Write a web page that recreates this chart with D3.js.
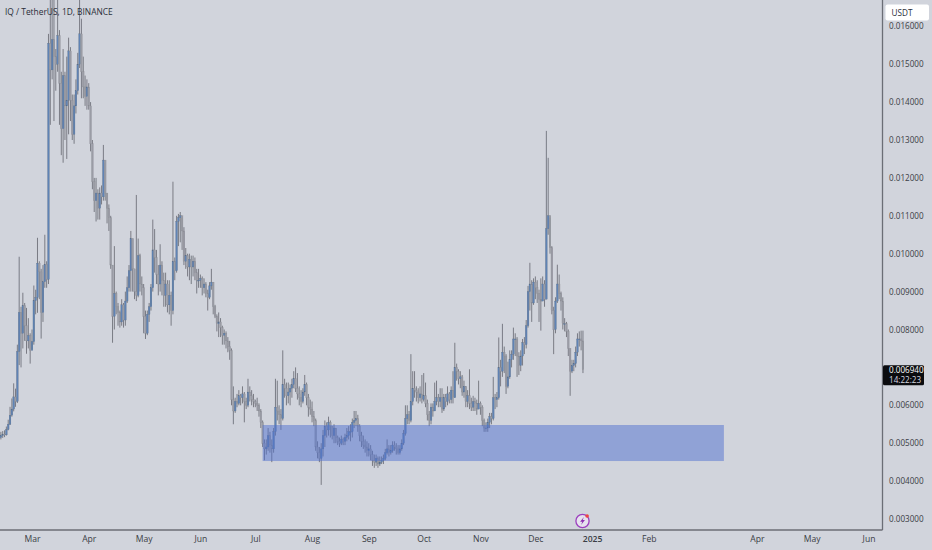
<!DOCTYPE html>
<html><head><meta charset="utf-8">
<script src="https://cdn.jsdelivr.net/npm/d3@7/dist/d3.min.js"></script>
<style>
html,body{margin:0;padding:0;background:#d1d4dc;overflow:hidden}
svg{display:block}
text{font-family:"Open Sans",sans-serif}
</style></head><body><svg id="c" width="932" height="550"></svg>
<script>
// Prices are in thousandths of USDT; one candle per day from the first date.
const firstDate = "2024-02-13";
const firstOpen = 5.15;
const closes = [
5.20,5.24,5.22,5.36,5.50,5.74,5.90,6.22,6.10,7.42,
8.45,7.90,8.63,8.10,7.70,7.84,7.45,7.68,8.76,8.84,
9.75,9.52,8.45,9.26,9.72,9.32,15.55,14.85,15.65,15.20,
15.00,15.75,14.50,13.30,14.70,13.90,14.05,15.35,14.05,13.15,
13.90,14.30,15.00,15.80,14.80,14.40,14.15,14.40,13.90,12.90,
11.90,11.40,11.60,11.20,11.60,11.50,12.47,11.60,11.20,10.95,
9.70,8.35,8.95,8.60,8.45,8.20,8.65,8.25,8.75,9.10,
9.55,10.40,9.60,9.00,8.90,9.95,9.20,9.10,8.35,7.90,
8.40,8.60,9.10,10.10,9.90,9.45,9.20,9.70,9.30,8.90,
9.20,8.65,8.90,8.50,9.80,9.55,10.85,10.95,11.00,10.60,
9.80,9.95,9.65,9.85,9.65,9.80,9.50,9.30,9.30,9.35,
9.10,9.20,8.95,8.85,9.15,9.25,8.60,8.35,8.15,8.20,
8.05,7.85,7.90,7.70,7.55,7.45,6.15,5.85,6.10,6.05,
6.25,6.20,6.30,6.10,6.00,6.35,6.25,6.15,6.10,6.05,
6.00,5.85,5.55,5.00,4.85,4.90,5.20,4.95,4.85,5.30,
5.95,5.85,5.75,5.65,6.55,6.45,6.25,6.35,6.45,6.55,
6.70,6.45,6.30,6.20,6.10,6.35,6.55,6.20,5.95,5.90,
5.70,5.60,4.90,4.75,4.60,4.85,5.20,5.45,5.35,5.55,
5.45,5.20,5.40,5.15,5.05,5.00,5.10,5.05,5.15,5.20,
5.30,5.30,5.55,5.60,5.65,5.45,5.20,5.05,4.95,4.90,
4.80,4.85,4.70,4.55,4.50,4.60,4.45,4.50,4.55,4.60,
4.75,4.85,4.75,4.80,4.95,4.90,4.85,4.75,4.85,5.00,
5.25,5.65,5.75,5.60,6.10,6.45,6.40,6.35,6.20,6.30,
6.15,6.25,6.05,5.75,5.60,5.95,5.85,6.10,6.20,6.10,
6.20,5.90,6.20,6.10,6.30,6.15,6.40,6.20,7.00,6.90,
6.70,6.75,6.35,6.50,6.10,6.25,6.05,5.95,6.10,6.05,
5.90,6.05,5.95,5.60,5.40,5.40,5.55,5.70,5.65,6.20,
6.15,6.20,7.00,6.90,7.40,7.30,6.50,6.75,7.20,7.35,
7.75,7.75,7.30,7.05,7.30,7.65,7.60,8.10,9.00,9.20,
8.70,9.25,9.10,8.95,8.80,8.75,9.20,8.80,10.66,11.00,
10.16,8.50,8.00,8.75,9.20,8.95,8.75,8.15,8.15,7.95,
7.50,6.90,7.05,7.10,7.40,7.75,7.75,7.70,6.94
];
const highs = [
5.30,5.32,5.34,5.44,5.62,5.96,6.18,6.58,6.44,7.60,
9.92,8.60,8.97,8.70,8.57,8.30,7.90,8.00,9.16,9.05,
10.42,9.80,9.60,9.70,10.50,9.80,15.80,16.70,16.70,16.70,
15.40,16.70,15.90,14.80,15.40,14.80,15.20,15.70,15.45,14.20,
14.20,14.60,15.30,16.70,16.20,15.20,14.70,14.60,14.50,14.00,
13.00,12.00,12.00,11.70,11.75,11.80,12.87,12.40,11.60,11.30,
11.00,9.70,10.20,9.00,8.70,8.50,8.80,8.70,9.00,9.40,
9.70,10.60,10.40,9.60,11.55,10.40,10.00,9.40,9.20,8.50,
8.50,8.70,9.20,10.90,10.65,10.10,9.70,10.25,9.80,9.50,
9.50,9.30,9.30,9.00,11.90,9.90,11.00,11.05,11.10,10.95,
10.70,10.15,10.00,10.00,9.95,9.95,9.90,9.60,9.60,9.45,
9.40,9.35,9.25,9.05,9.25,9.60,9.25,8.65,8.40,8.45,
8.30,8.10,8.00,7.95,7.80,7.70,7.50,6.50,6.20,6.30,
6.40,6.30,6.50,6.35,6.20,6.70,6.50,6.40,6.30,6.15,
6.20,6.05,5.90,5.60,5.10,5.10,5.40,5.30,5.10,5.40,
6.70,6.65,6.00,5.90,7.45,6.70,6.60,6.60,6.55,6.70,
6.90,7.00,6.85,6.50,6.40,6.45,6.80,6.60,6.30,6.15,
6.10,5.85,5.65,5.05,4.90,5.00,5.35,5.60,5.55,5.70,
5.60,5.45,5.50,5.40,5.20,5.15,5.20,5.15,5.25,5.40,
5.45,5.50,5.65,5.85,5.85,5.75,5.50,5.30,5.20,5.10,
5.05,5.00,4.95,4.80,4.70,4.70,4.65,4.65,4.65,4.70,
4.85,5.10,4.95,4.95,5.05,5.05,5.00,4.95,4.95,5.10,
5.35,6.00,6.00,5.85,7.35,6.90,6.90,6.50,6.45,6.50,
6.80,6.85,6.60,6.15,5.85,6.05,6.05,6.60,6.65,6.30,
6.45,6.45,6.30,6.30,6.50,6.35,6.50,6.90,7.65,7.10,
6.95,6.90,6.80,6.65,6.50,6.40,6.95,6.20,6.25,6.20,
6.15,6.65,6.10,6.00,5.65,5.55,5.65,5.80,5.80,6.75,
6.30,6.35,7.79,7.20,8.15,7.55,7.35,7.15,7.45,7.45,
8.05,7.90,7.80,7.40,7.45,7.75,7.80,8.25,9.15,9.76,
9.30,9.35,9.40,9.30,9.05,9.35,9.40,9.30,13.24,12.53,
10.95,10.20,8.60,8.85,9.71,9.45,9.00,8.85,8.30,8.20,
8.00,7.50,7.20,7.20,7.55,7.90,7.95,7.97,7.97
];
const lows = [
5.10,5.14,5.16,5.20,5.34,5.48,5.70,5.84,5.96,6.06,
7.06,7.00,7.50,7.70,7.36,7.50,7.10,7.48,7.60,8.40,
8.44,8.80,7.76,8.20,9.10,9.10,9.20,13.40,14.60,13.50,
14.30,14.80,13.40,12.60,12.40,13.00,12.50,13.15,13.50,13.00,
12.90,13.70,14.20,14.90,14.10,14.10,13.90,13.80,13.80,12.70,
11.70,11.10,10.85,10.90,10.90,11.30,11.40,11.40,10.80,10.60,
9.60,7.65,8.00,8.40,8.10,8.05,8.10,8.05,8.10,8.70,
9.00,9.00,9.00,8.80,8.75,8.85,9.00,8.90,7.90,7.75,
7.85,8.20,8.50,9.00,9.50,9.20,8.90,9.00,8.90,8.60,
8.60,8.45,8.40,8.10,8.40,9.30,9.50,10.20,10.30,10.10,
9.70,9.60,9.40,9.30,9.20,9.40,9.30,8.95,9.10,9.10,
8.90,8.95,8.85,8.50,8.80,9.05,8.40,8.30,7.95,7.80,
7.80,7.60,7.60,7.50,7.40,7.20,6.00,5.50,5.80,5.95,
6.00,6.00,6.05,5.55,5.90,5.95,6.10,6.00,5.95,5.95,
5.85,5.70,5.40,4.90,4.55,4.70,4.80,4.75,4.50,4.75,
5.20,5.60,5.50,5.35,5.60,6.20,6.00,6.05,6.00,6.20,
6.45,6.35,6.15,6.00,5.95,6.05,6.25,6.00,5.70,5.75,
5.55,5.45,4.80,4.60,4.50,3.90,4.65,4.90,5.15,5.20,
5.15,5.10,5.00,5.00,4.95,4.90,4.95,4.95,4.95,5.05,
5.10,5.05,5.15,5.40,5.45,5.30,5.05,4.90,4.85,4.75,
4.65,4.65,4.55,4.40,4.35,4.40,4.35,4.40,4.45,4.45,
4.55,4.70,4.65,4.70,4.75,4.80,4.70,4.70,4.70,4.80,
4.95,5.20,5.50,5.50,5.55,6.00,6.20,6.10,6.05,6.10,
6.05,6.10,5.95,5.60,5.45,5.50,5.70,5.85,6.00,5.95,
5.95,5.80,5.85,5.95,6.00,6.05,6.05,6.05,6.20,6.65,
6.55,6.45,6.25,6.20,5.95,5.95,5.90,5.85,5.85,5.85,
5.75,5.90,5.75,5.45,5.30,5.30,5.30,5.40,5.50,5.60,
5.90,5.95,6.15,6.50,6.75,6.85,6.30,6.45,6.70,7.00,
7.20,7.30,6.75,6.80,6.90,7.05,7.35,7.50,8.05,8.50,
8.20,8.65,8.80,8.70,8.20,7.97,8.75,8.60,8.80,10.50,
10.00,8.40,7.35,7.90,8.70,8.80,8.50,8.00,7.95,7.80,
7.30,6.25,6.85,6.90,7.00,7.30,7.55,7.45,6.85
];
const opens = closes.map((c, i) => i === 0 ? firstOpen : closes[i - 1]);

const priceTicks = [3,4,5,6,8,9,10,11,12,13,14,15,16];
const timeTickDates = ["2024-03-01","2024-04-01","2024-05-01","2024-06-01","2024-07-01","2024-08-01","2024-09-01","2024-10-01","2024-11-01","2024-12-01","2025-01-01","2025-02-01","2025-04-01","2025-05-01","2025-06-01"];
const timeTickLabels = ["Mar","Apr","May","Jun","Jul","Aug","Sep","Oct","Nov","Dec","2025","Feb","Apr","May","Jun"];
const zoneDates = ["2024-07-05","2025-03-14"];
const zonePrices = [5.48,4.53];
const lastPrice = 6.94;
const title = "IQ / TetherUS, 1D, BINANCE";
const currency = "USDT";
const countdown = "14:22:23";

const parse = d3.utcParse("%Y-%m-%d");
const x = d3.scaleUtc().domain([parse("2024-03-01"), parse("2025-06-01")]).range([32, 868.5]);
const y = d3.scaleLinear().domain([3,16]).range([519,26.3]);
const fmt = v => (v/1000).toFixed(6);
const start = parse(firstDate);
const dayOf = i => d3.utcDay.offset(start, i);

const svg = d3.select("#c");
svg.append("rect").attr("width",932).attr("height",550).attr("fill","#d1d4dc");
const defs = svg.append("defs");
defs.append("clipPath").attr("id","plot").append("rect").attr("width",882).attr("height",530);
defs.append("filter").attr("id","soft").attr("x","-5%").attr("y","-5%").attr("width","110%").attr("height","110%")
  .append("feGaussianBlur").attr("stdDeviation",0.35);

const plot = svg.append("g").attr("clip-path","url(#plot)");
const marks = plot.append("g").attr("filter","url(#soft)");
const idx = d3.range(closes.length);
marks.selectAll("line.w").data(idx).join("line").attr("class","w")
  .attr("x1",i=>x(dayOf(i))).attr("x2",i=>x(dayOf(i)))
  .attr("y1",i=>y(highs[i])).attr("y2",i=>y(lows[i]))
  .attr("stroke","#6f727a").attr("stroke-width",0.9);
marks.selectAll("rect.b").data(idx).join("rect").attr("class","b")
  .attr("x",i=>x(dayOf(i))-0.85).attr("width",1.7)
  .attr("y",i=>y(Math.max(opens[i],closes[i])))
  .attr("height",i=>Math.max(0.8,Math.abs(y(opens[i])-y(closes[i]))))
  .attr("fill",i=>closes[i]>=opens[i]?"#5f83b5":"#9a9ca5")
  .attr("stroke",i=>closes[i]>=opens[i]?"#5a6e88":"#8a8c94").attr("stroke-width",0.3);

plot.append("rect")
  .attr("x",x(parse(zoneDates[0]))).attr("width",x(parse(zoneDates[1]))-x(parse(zoneDates[0])))
  .attr("y",y(zonePrices[0])).attr("height",y(zonePrices[1])-y(zonePrices[0]))
  .attr("fill","#4f6fd0").attr("fill-opacity",0.5);

// axes
const yAxis = d3.axisRight(y).tickValues(priceTicks).tickFormat(fmt).tickSize(0).tickPadding(0);
const yG = svg.append("g").attr("transform","translate(889,0)").call(yAxis);
yG.select(".domain").remove();
yG.selectAll("text").attr("fill","#3a3d45").attr("font-size",8.1).attr("font-family","'Open Sans',sans-serif");

const xAxis = d3.axisBottom(x).tickValues(timeTickDates.map(parse))
  .tickFormat((d,i)=>timeTickLabels[i]).tickSize(0).tickPadding(0);
const xG = svg.append("g").attr("transform","translate(0,535.5)").call(xAxis);
xG.select(".domain").remove();
xG.selectAll("text").attr("fill","#3a3d45").attr("font-size",8.6).attr("font-family","'Open Sans',sans-serif")
  .attr("font-weight",(d,i)=>timeTickLabels[i]==="2025"?600:400);

svg.append("line").attr("x1",882.5).attr("x2",882.5).attr("y1",0).attr("y2",530).attr("stroke","#6b6e76").attr("stroke-width",1.3);
svg.append("line").attr("x1",0).attr("x2",882.5).attr("y1",530).attr("y2",530).attr("stroke","#6b6e76").attr("stroke-width",1.3);

svg.append("text").attr("x",5).attr("y",14.5).attr("font-size",8.4).attr("fill","#2a2e39").text(title);

// currency box
svg.append("rect").attr("x",885.5).attr("y",4.5).attr("width",43.5).attr("height",16).attr("rx",2).attr("fill","#ffffff");
svg.append("text").attr("x",891.5).attr("y",15.5).attr("font-size",8.2).attr("fill","#2a2e39").text(currency);

// last price tag
svg.append("rect").attr("x",883).attr("y",y(lastPrice)-4.5).attr("width",41).attr("height",20).attr("rx",1.5).attr("fill","#0b0c0f");
svg.append("text").attr("x",889).attr("y",y(lastPrice)+3.2).attr("font-size",8.1).attr("fill","#ffffff").text(fmt(lastPrice));
svg.append("text").attr("x",889).attr("y",y(lastPrice)+13).attr("font-size",8.1).attr("fill","#d8dae0").text(countdown);

// event badge on the time axis
const ev = svg.append("g").attr("transform","translate(582.5,521)");
ev.append("circle").attr("r",6.6).attr("fill","#e6e2ee").attr("stroke","#9c3fbf").attr("stroke-width",1.3);
ev.append("path").attr("d","M1.4,-4 L-2.4,0.8 L-0.2,0.8 L-1.4,4 L2.4,-0.9 L0.2,-0.9 Z").attr("fill","#8c2fb0");
ev.append("circle").attr("cx",4.6).attr("cy",-5).attr("r",1.8).attr("fill","#ef4444");
</script></body></html>
